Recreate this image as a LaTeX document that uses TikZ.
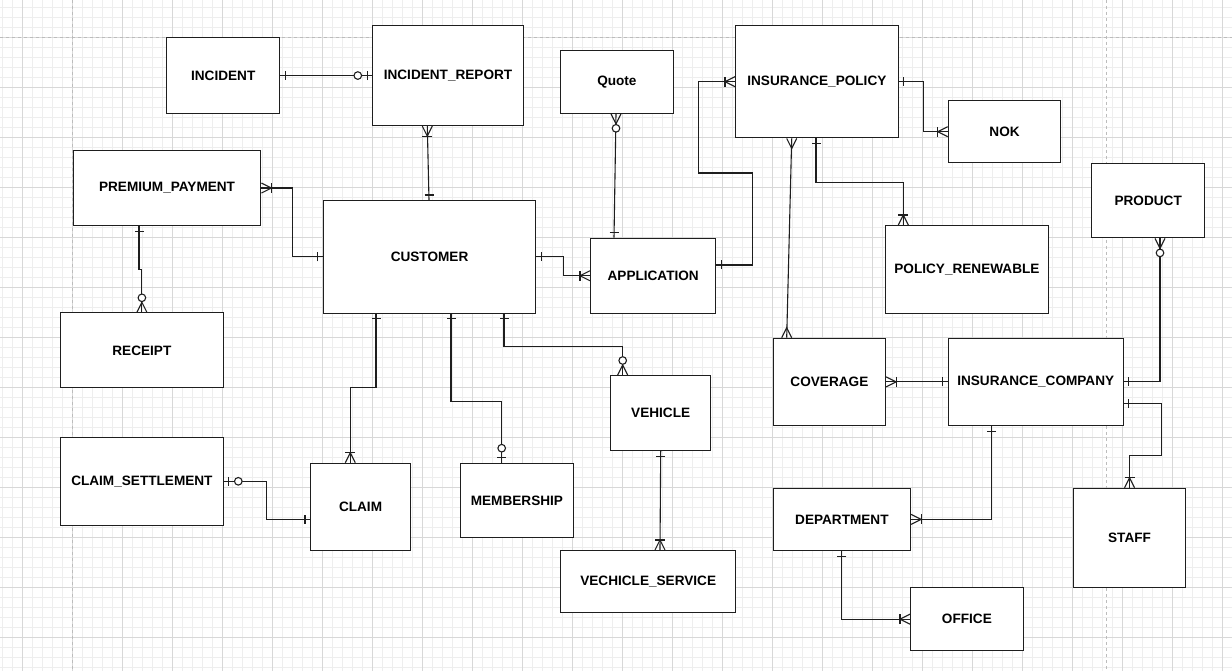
\documentclass[tikz,border=0pt]{standalone}
\usepackage{fontspec}
\setmainfont{Liberation Sans}
\usetikzlibrary{calc}
\definecolor{gminor}{RGB}{238,238,238}
\definecolor{gmajor}{RGB}{216,216,216}
\definecolor{gdash}{RGB}{188,188,188}
\definecolor{ink}{RGB}{30,30,30}
\tikzset{
  ent/.style={draw=ink, line width=1.1pt, fill=white, anchor=north west, inner sep=0pt,
    font=\fontsize{13.6}{16}\selectfont\bfseries, text=black},
  rel/.style={draw=ink, line width=1.1pt},
  pics/one/.style={code={\draw[rel] (5,-4.5)--(5,4.5);}},
  pics/zone/.style={code={\draw[rel] (5,-4.5)--(5,4.5); \draw[rel,fill=white] (14.5,0) circle (3.8pt);}},
  pics/onemany/.style={code={\draw[rel] (0,-5)--(10,0)--(0,5); \draw[rel] (10,-5)--(10,5);}},
  pics/zmany/.style={code={\draw[rel] (0,-5)--(10,0)--(0,5); \draw[rel,fill=white] (14.5,0) circle (3.8pt);}},
  pics/many/.style={code={\draw[rel] (0,-5)--(10,0)--(0,5);}},
}
\begin{document}
\begin{tikzpicture}[x=1pt,y=-1pt]
\useasboundingbox (0,0) rectangle (1232,671);
\fill[white] (0,0) rectangle (1232,671);
% grid
\foreach \x in {2.7,12.7,...,1232} \draw[gminor,line width=1pt] (\x,0) -- (\x,671);
\foreach \y in {7.3,17.3,...,671} \draw[gminor,line width=1pt] (0,\y) -- (1232,\y);
\foreach \x in {22.7,72.7,...,1232} \draw[gmajor,line width=1pt] (\x,0) -- (\x,671);
\foreach \y in {37.3,87.3,...,671} \draw[gmajor,line width=1pt] (0,\y) -- (1232,\y);
\draw[gdash,line width=1pt,dash pattern=on 3pt off 3pt] (72.7,0) -- (72.7,671);
\draw[gdash,line width=1pt,dash pattern=on 3pt off 3pt] (1106,0) -- (1106,671);
\draw[gdash,line width=1pt,dash pattern=on 3pt off 3pt] (0,37.3) -- (1232,37.3);

% entities
\node[ent, minimum width=112.7pt, minimum height=75.4pt] (incident) at (166.3,37.3) {INCIDENT};
\node[ent, minimum width=150.4pt, minimum height=100pt] (increp) at (372.3,25) {INCIDENT\_REPORT};
\node[ent, minimum width=187.6pt, minimum height=75pt] (prem) at (72.7,150) {PREMIUM\_PAYMENT};
\node[ent, minimum width=212.6pt, minimum height=112.7pt] (cust) at (322.7,200) {CUSTOMER};
\node[ent, minimum width=162.7pt, minimum height=75pt] (receipt) at (60,312.3) {RECEIPT};
\node[ent, minimum width=162.7pt, minimum height=87.7pt] (claimset) at (60,437.3) {CLAIM\_SETTLEMENT};
\node[ent, minimum width=100pt, minimum height=87.3pt] (claim) at (310,462.7) {CLAIM};
\node[ent, minimum width=112.7pt, minimum height=62.7pt] (quote) at (560,50) {Quote};
\node[ent, minimum width=125.3pt, minimum height=75pt] (app) at (590,237.7) {APPLICATION};
\node[ent, minimum width=162.7pt, minimum height=112.3pt] (inspol) at (735,25) {INSURANCE\_POLICY};
\node[ent, minimum width=112.6pt, minimum height=62.3pt] (nok) at (947.7,100) {NOK};
\node[ent, minimum width=112.7pt, minimum height=74.6pt] (product) at (1091.3,162.7) {PRODUCT};
\node[ent, minimum width=162.7pt, minimum height=87.7pt] (polren) at (885,225) {POLICY\_RENEWABLE};
\node[ent, minimum width=112.7pt, minimum height=74.6pt] (member) at (460,462.7) {MEMBERSHIP};
\node[ent, minimum width=100.3pt, minimum height=75pt] (vehicle) at (610,375) {VEHICLE};
\node[ent, minimum width=175.3pt, minimum height=62.3pt] (vservice) at (560,550) {VECHICLE\_SERVICE};
\node[ent, minimum width=112.3pt, minimum height=87.3pt] (coverage) at (772.7,337.7) {COVERAGE};
\node[ent, minimum width=175pt, minimum height=87.3pt] (inscomp) at (947.7,337.7) {INSURANCE\_COMPANY};
\node[ent, minimum width=137.3pt, minimum height=62.3pt] (dept) at (772.7,487.7) {DEPARTMENT};
\node[ent, minimum width=112.6pt, minimum height=99.6pt] (staff) at (1072.7,487.7) {STAFF};
\node[ent, minimum width=112.7pt, minimum height=62.7pt] (office) at (910,587.3) {OFFICE};

% endpoints
\coordinate (c2a) at ($(increp.south west)+(55,0)$);
\coordinate (c2b) at ($(cust.north west)+(106.3,0)$);
\coordinate (c4a) at ($(prem.south west)+(66.3,0)$);
\coordinate (c6a) at ($(quote.south west)+(56,0)$);
\coordinate (c6b) at ($(app.north west)+(24,0)$);
\coordinate (c7a) at ($(app.north east)+(0,27.3)$);
\coordinate (c8a) at ($(inspol.south west)+(56.7,0)$);
\coordinate (c8b) at ($(coverage.north west)+(14,0)$);
\coordinate (c9a) at ($(inspol.south west)+(81,0)$);
\coordinate (c9b) at ($(polren.north west)+(18.3,0)$);
\coordinate (c11a) at ($(product.south west)+(68.7,0)$);
\coordinate (c12a) at ($(inscomp.north east)+(0,65.6)$);
\coordinate (c14a) at ($(inscomp.south west)+(44,0)$);
\coordinate (c16a) at ($(cust.south west)+(53.3,0)$);
\coordinate (c16b) at ($(claim.north west)+(40.3,0)$);
\coordinate (c17a) at ($(claimset.north east)+(0,44)$);
\coordinate (c17b) at ($(claim.north west)+(0,56.6)$);
\coordinate (c18a) at ($(cust.south west)+(128.3,0)$);
\coordinate (c18b) at ($(member.north west)+(41.7,0)$);
\coordinate (c19a) at ($(cust.south west)+(181.3,0)$);
\coordinate (c19b) at ($(vehicle.north west)+(12.7,0)$);
\coordinate (c20b) at ($(vservice.north west)+(100,0)$);

% connectors
\draw[rel] (incident.east) -- (increp.west);
\draw[rel] (c2a) -- (c2b);
\draw[rel] (prem.east) -- ++(31.4,0) |- (cust.west);
\draw[rel] (c4a) -- ++(0,43) -| (receipt.north);
\draw[rel] (cust.east) -- ++(27.4,0) |- (app.west);
\draw[rel] (c6a) -- (c6b);
\draw[rel] (c7a) -- ++(36.4,0) -- ++(0,-92) -- ++(-54.4,0) |- (inspol.west);
\draw[rel] (c8a) -- (c8b);
\draw[rel] (c9a) -- ++(0,43.7) -| (c9b);
\draw[rel] (inspol.east) -- ++(24.6,0) |- (nok.west);
\draw[rel] (c11a) |- (inscomp.east);
\draw[rel] (c12a) -- ++(37.3,0) -- ++(0,52.4) -| (staff.north);
\draw[rel] (coverage.east) -- (inscomp.west);
\draw[rel] (c14a) |- (dept.east);
\draw[rel] (dept.south) |- (office.west);
\draw[rel] (c16a) -- ++(0,73.3) -| (c16b);
\draw[rel] (c17a) -- ++(42.6,0) |- (c17b);
\draw[rel] (c18a) -- ++(0,87.3) -| (c18b);
\draw[rel] (c19a) -- ++(0,32.3) -| (c19b);
\draw[rel] (vehicle.south) -- (c20b);

% markers
\pic at (incident.east) {one};
\pic[rotate=180] at (increp.west) {zone};
\pic[rotate=-90] at (c2a) {onemany};
\pic[rotate=90] at (c2b) {one};
\pic at (prem.east) {onemany};
\pic[rotate=180] at (cust.west) {one};
\pic[rotate=-90] at (c4a) {one};
\pic[rotate=90] at (receipt.north) {zmany};
\pic at (cust.east) {one};
\pic[rotate=180] at (app.west) {onemany};
\pic[rotate=-90] at (c6a) {zmany};
\pic[rotate=90] at (c6b) {one};
\pic at (c7a) {one};
\pic[rotate=180] at (inspol.west) {onemany};
\pic[rotate=-90] at (c8a) {many};
\pic[rotate=90] at (c8b) {many};
\pic[rotate=-90] at (c9a) {one};
\pic[rotate=90] at (c9b) {onemany};
\pic at (inspol.east) {one};
\pic[rotate=180] at (nok.west) {onemany};
\pic[rotate=-90] at (c11a) {zmany};
\pic at (inscomp.east) {one};
\pic at (c12a) {one};
\pic[rotate=90] at (staff.north) {onemany};
\pic at (coverage.east) {onemany};
\pic[rotate=180] at (inscomp.west) {one};
\pic[rotate=-90] at (c14a) {one};
\pic at (dept.east) {onemany};
\pic[rotate=-90] at (dept.south) {one};
\pic[rotate=180] at (office.west) {onemany};
\pic[rotate=-90] at (c16a) {one};
\pic[rotate=90] at (c16b) {onemany};
\pic at (c17a) {zone};
\pic[rotate=180] at (c17b) {one};
\pic[rotate=-90] at (c18a) {one};
\pic[rotate=90] at (c18b) {zone};
\pic[rotate=-90] at (c19a) {one};
\pic[rotate=90] at (c19b) {zmany};
\pic[rotate=-90] at (vehicle.south) {one};
\pic[rotate=90] at (c20b) {onemany};
\end{tikzpicture}
\end{document}
